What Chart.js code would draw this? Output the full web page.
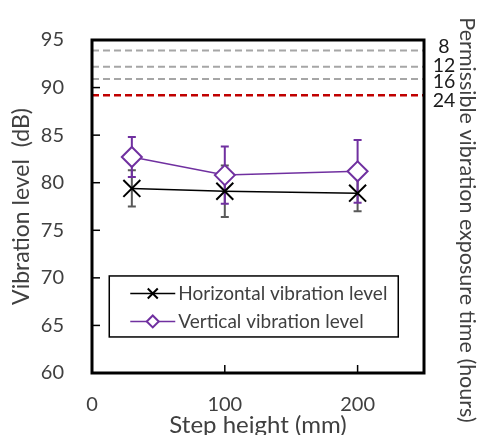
<!DOCTYPE html>
<html><head><meta charset="utf-8">
<script src="https://cdn.jsdelivr.net/npm/chart.js@4/dist/chart.umd.min.js"></script>
<style>html,body{margin:0;padding:0;background:#fff}#wrap{width:480px;height:435px}</style>
</head><body><div id="wrap"><canvas id="c" width="480" height="435"></canvas></div>
<script>
const stepHeights = [30, 100, 200];
const horizontalLevel = [79.4, 79.1, 78.9];
const horizontalErr = [1.9, 2.7, 1.9];
const verticalLevel = [82.7, 80.8, 81.2];
const verticalErr = [2.1, 3.0, 3.3];
const limitLevels = [93.9, 92.2, 90.9, 89.2];
const limitHours = ['8', '12', '16', '24'];
const xTickValues = [0, 100, 200];
const seriesNames = ['Horizontal vibration level', 'Vertical vibration level'];

const FONT = "Lato, 'Open Sans', sans-serif";
const PURPLE = '#7030A0';
const limitColors = ['#A6A6A6', '#A6A6A6', '#A6A6A6', '#C00000'];

const limitSets = limitLevels.map((v, i) => ({
  label: 'limit' + limitHours[i],
  data: [{x: 0, y: v}, {x: 250, y: v}],
  borderColor: limitColors[i],
  borderWidth: i === 3 ? 2.5 : 2,
  borderDash: [7, 4],
  pointRadius: 0,
  showLine: true,
  fill: false
}));

const datasets = [
  {
    label: seriesNames[0],
    data: stepHeights.map((x, i) => ({x, y: horizontalLevel[i]})),
    err: horizontalErr, errColor: '#595959',
    borderColor: '#000', borderWidth: 1.5,
    pointStyle: 'crossRot', pointRadius: 12, pointBorderWidth: 2,
    pointBorderColor: '#000', showLine: true
  },
  {
    label: seriesNames[1],
    data: stepHeights.map((x, i) => ({x, y: verticalLevel[i]})),
    err: verticalErr, errColor: PURPLE,
    borderColor: PURPLE, borderWidth: 1.5,
    pointStyle: 'rectRot', pointRadius: 10, pointBorderWidth: 2,
    pointBorderColor: PURPLE, pointBackgroundColor: '#fff', showLine: true
  },
  ...limitSets
];

const decor = {
  id: 'decor',
  beforeDatasetsDraw(chart) {
    const {ctx} = chart;
    const xs = chart.scales.x, ys = chart.scales.y;
    [0, 1].forEach(di => {
      const ds = chart.data.datasets[di];
      ctx.save();
      ctx.strokeStyle = ds.errColor;
      ctx.lineWidth = 2;
      ds.data.forEach((p, i) => {
        const px = xs.getPixelForValue(p.x);
        const top = ys.getPixelForValue(p.y + ds.err[i]);
        const bot = ys.getPixelForValue(p.y - ds.err[i]);
        ctx.beginPath();
        ctx.moveTo(px, top); ctx.lineTo(px, bot);
        ctx.moveTo(px - 4, top); ctx.lineTo(px + 4, top);
        ctx.moveTo(px - 4, bot); ctx.lineTo(px + 4, bot);
        ctx.stroke();
      });
      ctx.restore();
    });
  },
  afterDraw(chart) {
    const {ctx, chartArea: a} = chart;
    const xs = chart.scales.x, ys = chart.scales.y;
    ctx.save();
    // inside ticks
    ctx.strokeStyle = '#000';
    ctx.lineWidth = 1.5;
    ys.ticks.forEach(t => {
      const py = ys.getPixelForValue(t.value);
      ctx.beginPath(); ctx.moveTo(a.left, py); ctx.lineTo(a.left + 8, py); ctx.stroke();
    });
    xs.ticks.forEach(t => {
      const px = xs.getPixelForValue(t.value);
      ctx.beginPath(); ctx.moveTo(px, a.bottom); ctx.lineTo(px, a.bottom - 8); ctx.stroke();
    });
    // frame
    ctx.lineWidth = 3;
    ctx.strokeRect(a.left, a.top, a.right - a.left, a.bottom - a.top);

    // limit labels
    const offs = [-4, -1, 3, 6];
    ctx.fillStyle = '#1a1a1a';
    ctx.font = '19.5px ' + FONT;
    ctx.textAlign = 'center';
    ctx.textBaseline = 'middle';
    limitLevels.forEach((v, i) => {
      ctx.fillText(limitHours[i], a.right + 20, ys.getPixelForValue(v) + offs[i]);
    });

    // right title
    ctx.save();
    ctx.translate(467, 220);
    ctx.rotate(Math.PI / 2);
    ctx.fillStyle = '#404040';
    ctx.font = '21.5px ' + FONT;
    ctx.fillText('Permissible vibration exposure time (hours)', 0, 0);
    ctx.restore();

    // legend
    const lx = xs.getPixelForValue(13), ly = ys.getPixelForValue(70.2);
    const lw = 289, lh = 61;
    ctx.fillStyle = '#fff';
    ctx.fillRect(lx, ly, lw, lh);
    ctx.strokeStyle = '#000'; ctx.lineWidth = 1.5;
    ctx.strokeRect(lx, ly, lw, lh);
    const rows = [ly + 17.5, ly + 45.5];
    [0, 1].forEach(di => {
      const ds = chart.data.datasets[di];
      const y = rows[di];
      const x0 = lx + 21, x1 = lx + 66, cx = (x0 + x1) / 2;
      ctx.strokeStyle = ds.borderColor; ctx.lineWidth = 1.5;
      ctx.beginPath(); ctx.moveTo(x0, y); ctx.lineTo(x1, y); ctx.stroke();
      ctx.lineWidth = 2;
      if (di === 0) {
        ctx.beginPath();
        ctx.moveTo(cx - 5, y - 5); ctx.lineTo(cx + 5, y + 5);
        ctx.moveTo(cx - 5, y + 5); ctx.lineTo(cx + 5, y - 5);
        ctx.stroke();
      } else {
        ctx.fillStyle = '#fff';
        ctx.beginPath();
        ctx.moveTo(cx, y - 6); ctx.lineTo(cx + 6, y); ctx.lineTo(cx, y + 6); ctx.lineTo(cx - 6, y);
        ctx.closePath(); ctx.fill(); ctx.stroke();
      }
      ctx.fillStyle = '#404040';
      ctx.font = '19px ' + FONT;
      ctx.textAlign = 'left';
      ctx.textBaseline = 'middle';
      ctx.fillText(ds.label, x1 + 3, y);
    });
    ctx.restore();
  }
};

new Chart(document.getElementById('c'), {
  type: 'scatter',
  data: {datasets},
  plugins: [decor],
  options: {
    responsive: false,
    animation: false,
    layout: {padding: {top: 35, left: 0, right: 0, bottom: 0}},
    plugins: {legend: {display: false}, tooltip: {enabled: false}},
    scales: {
      x: {
        type: 'linear', min: 0, max: 250,
        grid: {display: false, drawTicks: false},
        border: {display: false},
        afterBuildTicks: s => { s.ticks = xTickValues.map(v => ({value: v})); },
        afterFit: s => { s.height = 62; },
        ticks: {color: '#404040', font: {family: FONT, size: 20}, padding: 20},
        title: {display: true, text: 'Step height (mm)', color: '#404040',
          font: {family: FONT, size: 24}, padding: {top: 0, bottom: -5}}
      },
      y: {
        type: 'linear', min: 60, max: 95,
        grid: {display: false, drawTicks: false},
        border: {display: false},
        afterFit: s => { s.width = 92; },
        ticks: {stepSize: 5, color: '#404040', font: {family: FONT, size: 20}, padding: 28},
        title: {display: true, text: 'Vibration level  (dB)', color: '#404040',
          font: {family: FONT, size: 23}, padding: {top: 8, bottom: 0}}
      },
      y2: {
        type: 'linear', position: 'right', min: 60, max: 95,
        grid: {display: false, drawTicks: false},
        border: {display: false},
        ticks: {display: false},
        afterFit: s => { s.width = 56; }
      }
    }
  }
});
</script>
</body></html>
